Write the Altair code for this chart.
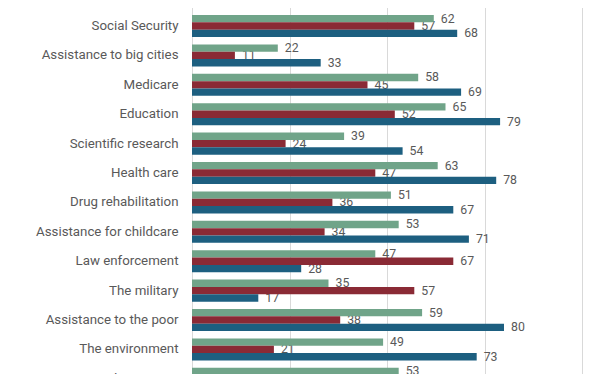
import altair as alt
import pandas as pd

categories = [
    "Assistance to other countries",
    "Social Security",
    "Assistance to big cities",
    "Medicare",
    "Education",
    "Scientific research",
    "Health care",
    "Drug rehabilitation",
    "Assistance for childcare",
    "Law enforcement",
    "The military",
    "Assistance to the poor",
    "The environment",
    "Border security",
]
series = ["Total", "Rep/Lean Rep", "Dem/Lean Dem"]
total = [8, 62, 22, 58, 65, 39, 63, 51, 53, 47, 35, 59, 49, 53]
rep = [5, 57, 11, 45, 52, 24, 47, 36, 34, 67, 57, 38, 21, 85]
dem = [12, 68, 33, 69, 79, 54, 78, 67, 71, 28, 17, 80, 73, 30]
colors = ["#70a489", "#8a2a35", "#1d5f80"]

rows = []
for i, c in enumerate(categories):
    for s, vals in zip(series, [total, rep, dem]):
        rows.append({"category": c, "series": s, "value": vals[i]})
df = pd.DataFrame(rows)

y = alt.Y(
    "category:N",
    sort=categories,
    scale=alt.Scale(paddingInner=0.25, paddingOuter=0),
    axis=alt.Axis(
        title=None, ticks=False, domain=False, grid=False,
        labelPadding=14, labelFontSize=13.3, labelColor="#595959",
        labelFont="Roboto", labelLimit=300,
    ),
)
yoff = alt.YOffset("series:N", sort=series, scale=alt.Scale(paddingInner=0, paddingOuter=0))
x = alt.X(
    "value:Q",
    scale=alt.Scale(domain=[0, 100]),
    axis=alt.Axis(
        title=None, labels=False, ticks=False, domain=False,
        values=[0, 25, 50, 75, 100], gridColor="#d9d9d9", gridWidth=1,
    ),
)
color = alt.Color("series:N", sort=series, scale=alt.Scale(domain=series, range=colors), legend=None)

base = alt.Chart(df)
text = base.mark_text(
    align="left", baseline="middle", dx=7, fontSize=12.3, font="Roboto", color="#595959"
).encode(y=y, yOffset=yoff, x=x, text="value:Q")
bars = base.mark_bar().encode(y=y, yOffset=yoff, x=x, color=color)

chart = (
    alt.layer(text, bars)
    .properties(
        width=390,
        height=404.25,
        autosize=alt.AutoSizeParams(type="none"),
        padding={"left": 184, "top": -22.4, "right": 22, "bottom": 0},
    )
    .configure_view(stroke=None)
)

chart.save("out.html", embed_options={"renderer": "svg", "actions": False})
